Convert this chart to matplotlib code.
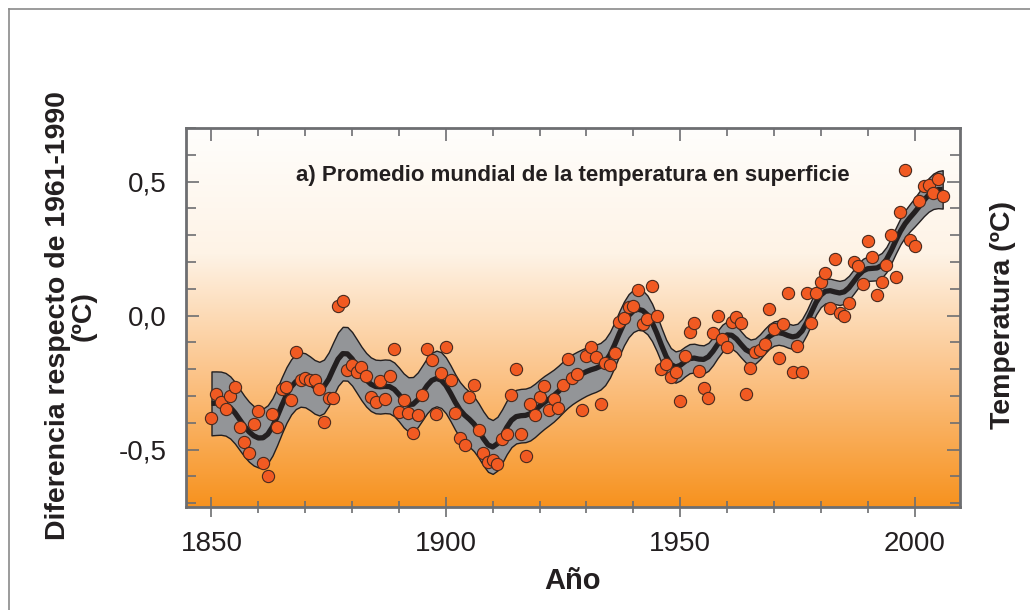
import numpy as np
import matplotlib
matplotlib.use("Agg")
import matplotlib.pyplot as plt
from matplotlib.colors import LinearSegmentedColormap
from matplotlib.lines import Line2D

# ---------------- data ----------------
years = list(range(1850, 2007))
anomaly = [
    # 1850-1859
    -0.382, -0.292, -0.323, -0.347, -0.300, -0.267, -0.417, -0.471, -0.512, -0.404,
    # 1860-1869
    -0.354, -0.551, -0.600, -0.367, -0.414, -0.275, -0.267, -0.315, -0.134, -0.240,
    # 1870-1879
    -0.231, -0.242, -0.240, -0.275, -0.398, -0.308, -0.308, 0.036, 0.055, -0.203,
    # 1880-1889
    -0.184, -0.211, -0.190, -0.225, -0.302, -0.322, -0.244, -0.312, -0.225, -0.124,
    # 1890-1899
    -0.361, -0.315, -0.364, -0.438, -0.372, -0.296, -0.124, -0.165, -0.367, -0.213,
    # 1900-1909
    -0.118, -0.239, -0.364, -0.458, -0.483, -0.302, -0.259, -0.428, -0.511, -0.545,
    # 1910-1919
    -0.538, -0.552, -0.459, -0.443, -0.296, -0.200, -0.441, -0.522, -0.331, -0.372,
    # 1920-1929
    -0.303, -0.262, -0.353, -0.312, -0.343, -0.259, -0.162, -0.231, -0.216, -0.352,
    # 1930-1939
    -0.150, -0.116, -0.155, -0.328, -0.175, -0.186, -0.139, -0.024, -0.007, 0.034,
    # 1940-1949
    0.037, 0.096, -0.031, -0.014, 0.112, -0.002, -0.200, -0.181, -0.230, -0.209,
    # 1950-1959
    -0.317, -0.150, -0.060, -0.026, -0.208, -0.269, -0.306, -0.063, -0.001, -0.088,
    # 1960-1969
    -0.116, -0.022, -0.004, -0.026, -0.293, -0.195, -0.137, -0.128, -0.107, 0.025,
    # 1970-1979
    -0.051, -0.157, -0.030, 0.086, -0.209, -0.114, -0.209, 0.083, -0.028, 0.083,
    # 1980-1989
    0.126, 0.158, 0.029, 0.212, 0.009, -0.003, 0.046, 0.199, 0.187, 0.117,
    # 1990-1999
    0.280, 0.220, 0.076, 0.126, 0.188, 0.301, 0.144, 0.386, 0.542, 0.282,
    # 2000-2006
    0.258, 0.428, 0.484, 0.487, 0.458, 0.508, 0.447,
]

# half-width of the 5-95 % decadal uncertainty band, read per decade
band_years = [1850, 1860, 1870, 1880, 1890, 1900, 1910, 1920, 1930,
              1940, 1950, 1960, 1970, 1980, 1990, 2000, 2006]
band_half = [0.12, 0.11, 0.10, 0.10, 0.10, 0.105, 0.10, 0.10, 0.09,
             0.08, 0.055, 0.05, 0.045, 0.045, 0.045, 0.05, 0.075]

xtick_values = [1850, 1900, 1950, 2000]
xtick_labels = ["1850", "1900", "1950", "2000"]
ytick_values = [-0.5, 0.0, 0.5]
ytick_labels = ["-0,5", "0,0", "0,5"]

title_text = "a) Promedio mundial de la temperatura en superficie"
ylabel_text = "Diferencia respecto de 1961-1990\n(ºC)"
ylabel_right = "Temperatura (ºC)"
xlabel_text = "Año"

# ---------------- decadal smoothing (13-point filter, IPCC AR4 App. 3.A) ----
yrs = np.array(years, dtype=float)
vals = np.array(anomaly)
w = np.array([1, 6, 19, 42, 71, 96, 106, 96, 71, 42, 19, 6, 1], dtype=float)
w /= w.sum()
h = len(w) // 2
padded = np.concatenate([np.full(h, vals[:h].mean()), vals, np.full(h, vals[-h:].mean())])
smooth = np.convolve(padded, w, mode="valid")
half = np.interp(yrs, band_years, band_half)
half = np.convolve(np.concatenate([np.full(h, half[0]), half, np.full(h, half[-1])]), w, mode="valid")

# ---------------- figure ----------------
plt.rcParams["font.family"] = ["Liberation Sans", "DejaVu Sans"]
fig = plt.figure(figsize=(10.3, 6.1), dpi=100)
ax = fig.add_axes([186 / 1030, 1 - 507 / 610, (960 - 186) / 1030, (507 - 128) / 610])

xmin, xmax = 1844.56, 2009.7
ymin, ymax = -0.714, 0.700
ax.set_xlim(xmin, xmax)
ax.set_ylim(ymin, ymax)

# background gradient
cmap = LinearSegmentedColormap.from_list("bg", ["#F7921E", "#FBC184", "#FEF3E6", "#FFFEFC"],)
grad = np.linspace(0, 1, 256).reshape(-1, 1)
ax.imshow(grad, extent=[xmin, xmax, ymin, ymax], origin="lower", aspect="auto",
          cmap=cmap, zorder=0, interpolation="bicubic")

spine_col = "#6D6E71"
txt_col = "#231F20"

# uncertainty band
ax.fill_between(yrs, smooth - half, smooth + half, facecolor="#939598",
                edgecolor="#231F20", linewidth=1.0, zorder=2)
# smoothed curve
ax.plot(yrs, smooth, color="#231F20", linewidth=3.8, zorder=3, solid_capstyle="butt")
# annual values
ax.plot(yrs, vals, linestyle="none", marker="o", markersize=8.8,
        markerfacecolor="#F15A22", markeredgecolor="#4A2A1E", markeredgewidth=0.8, zorder=4)

# spines
for s in ax.spines.values():
    s.set_color(spine_col)
    s.set_linewidth(2.0)

# x ticks (bottom: crossing)
ax.set_xticks(xtick_values)
ax.set_xticklabels(xtick_labels)
ax.set_xticks(np.arange(1850, 2001, 10), minor=True)
ax.tick_params(axis="x", which="major", direction="inout", length=14, width=1.2,
               color=spine_col, labelsize=20, labelcolor=txt_col, pad=10)
ax.tick_params(axis="x", which="minor", direction="inout", length=9, width=1.2,
               color=spine_col)

# y ticks (inward both sides)
ax.set_yticks(ytick_values)
ax.set_yticklabels(ytick_labels)
ax.set_yticks(np.arange(-0.7, 0.71, 0.1), minor=True)
ax.tick_params(axis="y", which="major", direction="in", length=9.5, width=1.2,
               color=spine_col, labelsize=20, labelcolor=txt_col, pad=14,
               right=True)
ax.tick_params(axis="y", which="minor", direction="in", length=7, width=1.2,
               color=spine_col, right=True)

# top ticks (inward)
sec = ax.secondary_xaxis("top")
sec.set_xticks(xtick_values)
sec.set_xticks(np.arange(1850, 2001, 10), minor=True)
sec.tick_params(which="major", direction="in", length=9, width=1.2, color=spine_col,
                labeltop=False)
sec.tick_params(which="minor", direction="in", length=5.5, width=1.2, color=spine_col)
sec.spines["top"].set_visible(False)
sec.set_xticklabels([])

# texts
ax.text(0.5, 0.875, title_text, transform=ax.transAxes, ha="center", va="center",
        fontsize=16, fontweight="bold", color=txt_col, zorder=5)
fig.text(71 / 1030, 1 - 316 / 610, ylabel_text, rotation=90, ha="center", va="center",
         fontsize=20.5, fontweight="bold", color=txt_col, multialignment="center",
         linespacing=0.95)
fig.text(1003 / 1030, 1 - 315 / 610, ylabel_right, rotation=90, ha="center", va="center",
         fontsize=20.5, fontweight="bold", color=txt_col)
fig.text(573 / 1030, 1 - 581 / 610, xlabel_text, ha="center", va="center",
         fontsize=21, fontweight="bold", color=txt_col)

# outer frame lines (top and left)
fig.add_artist(Line2D([9 / 1030, 1.0], [1 - 9 / 610, 1 - 9 / 610], transform=fig.transFigure,
                      color="#8A8A8A", linewidth=1.2))
fig.add_artist(Line2D([9 / 1030, 9 / 1030], [0.0, 1 - 9 / 610], transform=fig.transFigure,
                      color="#8A8A8A", linewidth=1.2))

fig.savefig("out.png", dpi=100)
